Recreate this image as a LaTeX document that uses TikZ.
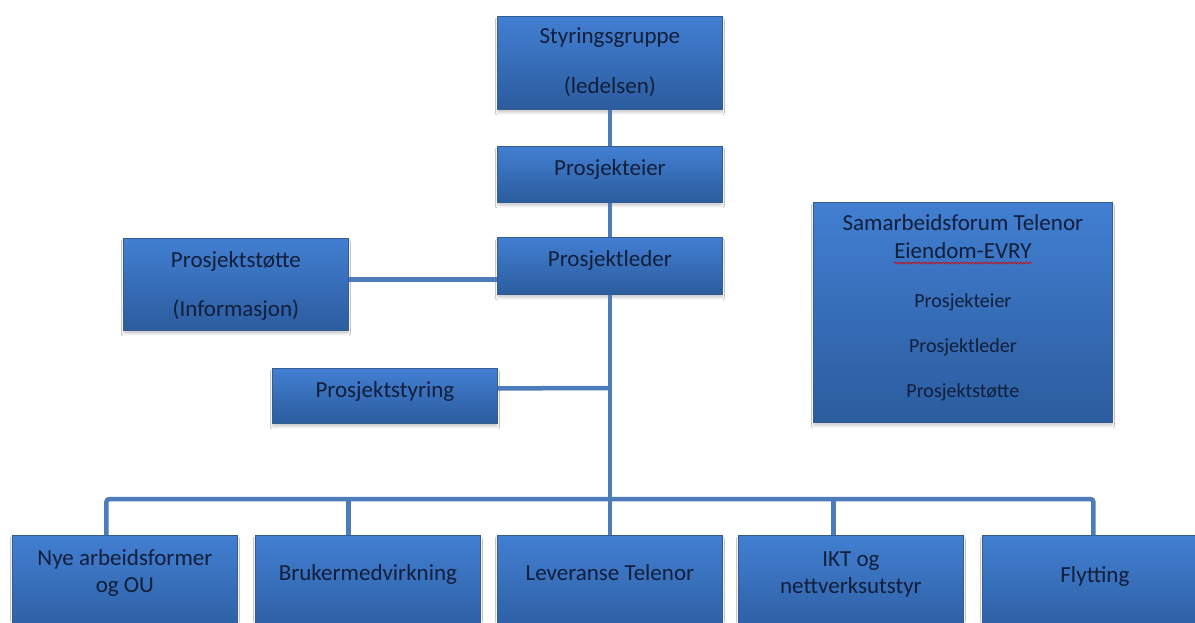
\documentclass[tikz,border=0pt]{standalone}
\usepackage{fontspec}
\setmainfont{Carlito}
\usetikzlibrary{shadows.blur,decorations.pathmorphing}

\definecolor{boxtop}{RGB}{66,127,210}
\definecolor{boxbot}{RGB}{43,92,158}
\definecolor{boxedge}{RGB}{52,92,145}
\definecolor{linkcol}{RGB}{76,124,186}
\definecolor{txtcol}{RGB}{18,30,58}

\tikzset{
  box/.style={rectangle, draw=boxedge, line width=0.8pt,
    top color=boxtop, bottom color=boxbot,
    minimum width=225pt, anchor=north west, inner sep=0pt,
    blur shadow={shadow xshift=0pt, shadow yshift=-3.5pt,
      shadow blur radius=2pt, shadow opacity=18}},
  txt/.style={inner sep=0pt, anchor=base, text=txtcol,
    font=\fontsize{23}{27}\selectfont},
  small/.style={txt, font=\fontsize{20}{24}\selectfont},
  conn/.style={draw=linkcol, line width=4.5pt},
}

\begin{document}
\begin{tikzpicture}[x=1pt, y=-1pt]
  \clip (0,0) rectangle (1195,622);
  \fill[white] (0,0) rectangle (1195,622);

  % management line
  \node[box, minimum height=93pt] (sty) at (497,16) {};
  \node[box, minimum height=56pt] (eier) at (497,146) {};
  \node[box, minimum height=57pt] (leder) at (497,237) {};
  \node[box, minimum height=92pt] (stotte) at (123,238) {};
  \node[box, minimum height=55pt] (styr) at (272,368) {};

  % cooperation forum
  \node[box, minimum width=299pt, minimum height=220pt] (sam) at (813,202) {};

  % work streams
  \node[box, minimum height=105pt] (b1) at (12,535) {};
  \node[box, minimum height=105pt] (b2) at (255,535) {};
  \node[box, minimum height=105pt] (b3) at (497,535) {};
  \node[box, minimum height=105pt] (b4) at (738,535) {};
  \node[box, minimum height=105pt] (b5) at (982,535) {};

  % connectors
  \coordinate (hub) at (leder.south |- 0,499);
  \coordinate (styrjoin) at (leder.south |- 0,388);
  \draw[conn] (sty.south) -- (eier.north);
  \draw[conn] (eier.south) -- (leder.north);
  \draw[conn] ([yshift=5pt]stotte.east) -- ([yshift=5pt]stotte.east -| leder.west);
  \draw[conn] (leder.south) -- (hub);
  \draw[conn] ([yshift=7.5pt]styr.east) -- (styrjoin);
  \draw[conn, rounded corners=3pt]
    ([xshift=-18.5pt]b1.north) |- (hub) -| ([xshift=-1.5pt]b5.north);
  \draw[conn] ([xshift=-19.5pt]b2.north) -- ([xshift=-19.5pt]b2.north |- hub);
  \draw[conn] (hub) -- (b3.north);
  \draw[conn] ([xshift=-17.5pt]b4.north) -- ([xshift=-17.5pt]b4.north |- hub);

  % texts
  \node[txt] (styA) at (sty.north |- 0,43) {Styringsgruppe};
  \node[txt] (styB) at (sty.north |- 0,93) {(ledelsen)};
  \node[txt] (eierT) at (eier.north |- 0,175) {Prosjekteier};
  \node[txt] (lederT) at (leder.north |- 0,266) {Prosjektleder};
  \node[txt] (stotteA) at (stotte.north |- 0,267) {Prosjektstøtte};
  \node[txt] (stotteB) at (stotte.north |- 0,316) {(Informasjon)};
  \node[txt] (styrT) at (styr.north |- 0,397) {Prosjektstyring};

  \node[txt] (sam1) at (sam.north |- 0,230) {Samarbeidsforum Telenor};
  \node[txt] (sam2) at (sam.north |- 0,258) {Eiendom-EVRY};
  \node[small] (sam3) at (sam.north |- 0,307) {Prosjekteier};
  \node[small] (sam4) at (sam.north |- 0,352) {Prosjektleder};
  \node[small] (sam5) at (sam.north |- 0,397) {Prosjektstøtte};
  \draw[red!85!black, line width=0.6pt, decorate,
        decoration={snake, amplitude=0.9pt, segment length=3pt}]
    ([yshift=-5pt]sam2.base west) -- ([yshift=-5pt]sam2.base east);

  \node[txt] (b1A) at (b1.north |- 0,565) {Nye arbeidsformer};
  \node[txt] (b1B) at (b1.north |- 0,592) {og OU};
  \node[txt] (b2T) at (b2.north |- 0,580) {Brukermedvirkning};
  \node[txt] (b3T) at (b3.north |- 0,580) {Leveranse Telenor};
  \node[txt] (b4A) at (b4.north |- 0,566) {IKT og};
  \node[txt] (b4B) at (b4.north |- 0,593) {nettverksutstyr};
  \node[txt] (b5T) at (b5.north |- 0,582) {Flytting};
\end{tikzpicture}
\end{document}
